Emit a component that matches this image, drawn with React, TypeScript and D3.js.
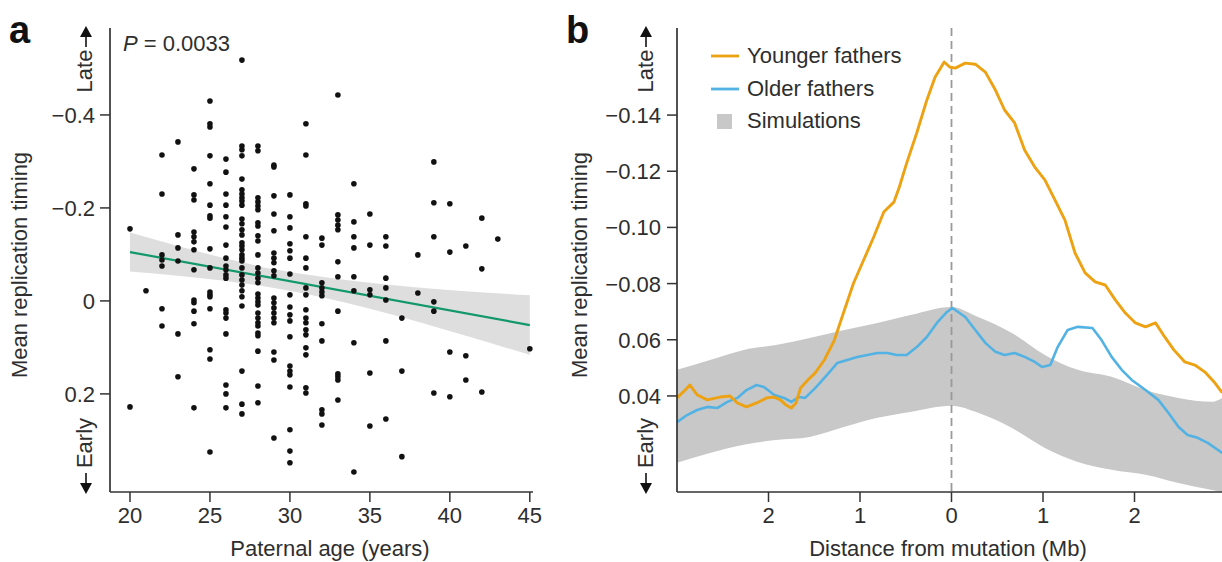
import React from 'react';
import * as d3 from 'd3';

// ---------- Panel a data ----------
const ageColumns = [20, 21, 22, 23, 24, 25, 26, 27, 28, 29, 30, 31, 32, 33, 34, 35, 36, 37, 38, 39, 40, 41, 42, 43, 45];
const timingByAge: number[][] = [
  [-0.155, 0.228],
  [-0.022],
  [-0.314, -0.23, -0.099, -0.088, -0.075, 0.017, 0.054],
  [-0.342, -0.142, -0.114, -0.086, 0.071, 0.163],
  [-0.284, -0.228, -0.217, -0.148, -0.138, -0.127, -0.11, -0.067, -0.002, 0.004, 0.022, 0.049, 0.23],
  [-0.43, -0.381, -0.374, -0.312, -0.252, -0.206, -0.183, -0.178, -0.112, -0.071, -0.019, -0.013, -0.009, 0.017, 0.105, 0.125, 0.325],
  [-0.305, -0.277, -0.23, -0.206, -0.181, -0.159, -0.12, -0.092, -0.075, -0.067, -0.056, -0.049, 0.019, 0.026, 0.037, 0.071, 0.181, 0.2, 0.23],
  [-0.518, -0.333, -0.325, -0.312, -0.262, -0.239, -0.23, -0.222, -0.215, -0.206, -0.176, -0.166, -0.153, -0.142, -0.125, -0.118, -0.11, -0.099, -0.092, -0.086, -0.071, -0.056, -0.045, -0.034, -0.022, -0.009, 0.011, 0.151, 0.222, 0.243],
  [-0.333, -0.323, -0.222, -0.213, -0.204, -0.196, -0.168, -0.161, -0.14, -0.129, -0.099, -0.071, -0.06, -0.049, -0.039, -0.015, -0.006, 0.002, 0.009, 0.026, 0.037, 0.047, 0.054, 0.069, 0.075, 0.108, 0.183, 0.219],
  [-0.292, -0.288, -0.226, -0.187, -0.151, -0.103, -0.092, -0.082, -0.065, -0.054, -0.006, 0.004, 0.015, 0.026, 0.037, 0.047, 0.11, 0.127, 0.295],
  [-0.228, -0.181, -0.157, -0.123, -0.108, -0.092, -0.058, -0.013, 0.013, 0.03, 0.043, 0.077, 0.14, 0.151, 0.159, 0.185, 0.277, 0.323, 0.348],
  [-0.381, -0.314, -0.209, -0.204, -0.138, -0.092, -0.071, -0.028, -0.013, 0.019, 0.037, 0.047, 0.062, 0.073, 0.101, 0.116, 0.187, 0.198],
  [-0.135, -0.12, -0.039, -0.028, -0.019, -0.011, 0.049, 0.086, 0.234, 0.243, 0.267],
  [-0.443, -0.185, -0.174, -0.163, -0.153, -0.084, -0.052, 0.022, 0.157, 0.163, 0.17, 0.213],
  [-0.252, -0.17, -0.138, -0.114, -0.052, -0.022, 0.09, 0.368],
  [-0.187, -0.12, -0.024, -0.013, 0.155, 0.269],
  [-0.138, -0.118, -0.049, -0.028, -0.002, 0.086, 0.254],
  [0.037, 0.151, 0.335],
  [-0.099, -0.017],
  [-0.299, -0.211, -0.138, 0.002, 0.022, 0.198],
  [-0.209, -0.105, 0.11, 0.206],
  [-0.118, 0.118, 0.17],
  [-0.178, -0.069, 0.196],
  [-0.133],
  [0.103],
];
const fitAges = [20, 45];
const fitValues = [-0.105, 0.052];
const bandAges = [20, 23, 26, 29, 32, 35, 38, 41, 45];
const bandLow = [-0.147, -0.118, -0.091, -0.068, -0.052, -0.039, -0.029, -0.021, -0.012];
const bandHigh = [-0.063, -0.054, -0.043, -0.028, -0.008, 0.017, 0.045, 0.075, 0.116];
const ageTicks = [20, 25, 30, 35, 40, 45];
const timingTicksA = [-0.4, -0.2, 0, 0.2];
const timingTickLabelsA = ['\u22120.4', '\u22120.2', '0', '0.2'];

// ---------- Panel b data ----------
const youngerMb = [-3.0, -2.91, -2.86, -2.78, -2.67, -2.53, -2.42, -2.34, -2.24, -2.13, -2.02, -1.94, -1.87, -1.81, -1.75, -1.7, -1.65, -1.57, -1.49, -1.39, -1.28, -1.17, -1.07, -0.96, -0.85, -0.74, -0.63, -0.57, -0.49, -0.38, -0.27, -0.18, -0.08, -0.02, 0.04, 0.15, 0.26, 0.37, 0.48, 0.58, 0.69, 0.8, 0.91, 1.02, 1.13, 1.24, 1.35, 1.46, 1.57, 1.68, 1.79, 1.9, 2.01, 2.12, 2.23, 2.33, 2.43, 2.55, 2.66, 2.77, 2.88, 2.96];
const youngerVal = [0.0393, 0.0421, 0.0439, 0.0404, 0.0386, 0.0396, 0.04, 0.0375, 0.0361, 0.0375, 0.0393, 0.0396, 0.0386, 0.0368, 0.0357, 0.0375, 0.0428, 0.0457, 0.0482, 0.0528, 0.0599, 0.0706, 0.0802, 0.0884, 0.0966, 0.1055, 0.109, 0.1144, 0.1229, 0.1336, 0.1453, 0.1535, 0.1589, 0.1571, 0.1567, 0.1585, 0.1581, 0.1553, 0.1489, 0.1418, 0.1372, 0.1275, 0.1215, 0.1169, 0.1098, 0.1026, 0.0909, 0.0838, 0.0806, 0.0795, 0.0742, 0.0695, 0.066, 0.0646, 0.066, 0.061, 0.0564, 0.0521, 0.051, 0.0485, 0.0446, 0.0411];
const olderMb = [-3.0, -2.89, -2.78, -2.67, -2.56, -2.45, -2.34, -2.24, -2.13, -2.05, -1.94, -1.83, -1.75, -1.67, -1.6, -1.49, -1.36, -1.25, -1.14, -1.03, -0.92, -0.81, -0.7, -0.6, -0.49, -0.38, -0.27, -0.16, -0.05, 0.01, 0.15, 0.26, 0.37, 0.48, 0.58, 0.69, 0.8, 0.91, 0.99, 1.08, 1.16, 1.27, 1.38, 1.54, 1.64, 1.75, 1.86, 1.97, 2.12, 2.26, 2.37, 2.48, 2.58, 2.69, 2.8, 2.96];
const olderVal = [0.0307, 0.0332, 0.035, 0.0361, 0.0357, 0.0379, 0.0393, 0.0421, 0.0439, 0.0432, 0.0404, 0.0393, 0.0379, 0.0396, 0.0393, 0.0428, 0.0475, 0.0517, 0.0528, 0.0539, 0.0546, 0.0553, 0.0553, 0.0546, 0.0546, 0.0574, 0.061, 0.066, 0.0699, 0.0713, 0.0681, 0.0635, 0.0589, 0.0557, 0.0546, 0.0553, 0.0539, 0.0521, 0.0503, 0.051, 0.0574, 0.0635, 0.0646, 0.0642, 0.0599, 0.0539, 0.0493, 0.0457, 0.0421, 0.0386, 0.034, 0.029, 0.0261, 0.0251, 0.0233, 0.0197];
const simMb = [-3.0, -2.64, -2.27, -1.92, -1.55, -1.17, -0.81, -0.45, 0.0, 0.29, 0.66, 1.02, 1.38, 1.75, 2.12, 2.48, 2.85, 2.96];
const simHigh = [0.0493, 0.0528, 0.0564, 0.0581, 0.0606, 0.0635, 0.066, 0.0688, 0.0717, 0.0681, 0.0624, 0.0546, 0.0493, 0.0468, 0.0421, 0.0393, 0.0379, 0.0393];
const simLow = [0.0162, 0.0197, 0.0226, 0.0243, 0.0254, 0.029, 0.0322, 0.0343, 0.0365, 0.034, 0.0286, 0.0215, 0.0165, 0.0137, 0.0119, 0.009, 0.0065, 0.0058];
const mbTicks = [-2, -1, 0, 1, 2];
const mbTickLabels = ['2', '1', '0', '1', '2'];
const timingTicksB = [0.04, 0.06, 0.08, 0.1, 0.12, 0.14];
const timingTickLabelsB = ['0.04', '0.06', '\u22120.08', '\u22120.10', '\u22120.12', '\u22120.14'];
const legendLabels = ['Younger fathers', 'Older fathers', 'Simulations'];

const FONT = '"Liberation Sans", Arial, Helvetica, sans-serif';
const TXT = '#2e2e2e';
const AX = '#333';
const ORANGE = '#EDA214';
const BLUE = '#52B2E3';
const GREEN = '#13986B';

function UpArrow({ x, y }: { x: number; y: number }) {
  return (
    <g>
      <line x1={x} y1={y + 9} x2={x} y2={y + 21} stroke="#111" strokeWidth={1.6} />
      <path d={`M${x},${y} L${x - 6},${y + 11} L${x + 6},${y + 11} Z`} fill="#111" />
    </g>
  );
}
function DownArrow({ x, y }: { x: number; y: number }) {
  return (
    <g>
      <line x1={x} y1={y - 21} x2={x} y2={y - 9} stroke="#111" strokeWidth={1.6} />
      <path d={`M${x},${y} L${x - 6},${y - 11} L${x + 6},${y - 11} Z`} fill="#111" />
    </g>
  );
}

export default function App() {
  const top = 28, bottom = 492;
  // panel a scales
  const xA = d3.scaleLinear().domain([18.75, 45.2]).range([110, 533]);
  const yA = d3.scaleLinear().domain([-0.587, 0.411]).range([top, bottom]);
  // panel b scales
  const xB = d3.scaleLinear().domain([-3, 3]).range([677, 1226]);
  const yB = d3.scaleLinear().domain([0.0058, 0.171]).range([bottom, top]);

  const bandA = d3
    .area<number>()
    .x((_, i) => xA(bandAges[i]))
    .y0((_, i) => yA(bandLow[i]))
    .y1((_, i) => yA(bandHigh[i]))
    .curve(d3.curveMonotoneX)(bandAges);

  const simArea = d3
    .area<number>()
    .x((_, i) => xB(simMb[i]))
    .y0((_, i) => yB(simLow[i]))
    .y1((_, i) => yB(simHigh[i]))
    .curve(d3.curveMonotoneX)(simMb);

  const youngLine = d3
    .line<number>()
    .x((_, i) => xB(youngerMb[i]))
    .y((_, i) => yB(youngerVal[i]))(youngerMb);
  const oldLine = d3
    .line<number>()
    .x((_, i) => xB(olderMb[i]))
    .y((_, i) => yB(olderVal[i]))(olderMb);

  const fs = 22;

  return (
    <svg width={1222} height={562} style={{ position: 'absolute', left: 0, top: 0 }} fontFamily={FONT}>
      <rect width={1222} height={562} fill="#fff" />
      {/* ================= Panel a ================= */}
      <text x={9} y={43} fontSize={38} fontWeight="bold" fill="#111">a</text>
      <path d={bandA || ''} fill="#dedede" />
      <line x1={xA(fitAges[0])} y1={yA(fitValues[0])} x2={xA(fitAges[1])} y2={yA(fitValues[1])} stroke={GREEN} strokeWidth={2.2} />
      {ageColumns.map((age, ci) =>
        timingByAge[ci].map((v, j) => <circle key={`${ci}-${j}`} cx={xA(age)} cy={yA(v)} r={2.8} fill="#111" />)
      )}
      {/* axes */}
      <line x1={110} y1={top} x2={110} y2={bottom} stroke={AX} strokeWidth={1.7} />
      <line x1={110} y1={bottom} x2={533} y2={bottom} stroke={AX} strokeWidth={1.7} />
      {timingTicksA.map((t, i) => (
        <g key={t}>
          <line x1={100} x2={110} y1={yA(t)} y2={yA(t)} stroke={AX} strokeWidth={1.5} />
          <text x={95} y={yA(t)} dy="0.36em" textAnchor="end" fontSize={fs} fill={TXT}>{timingTickLabelsA[i]}</text>
        </g>
      ))}
      {ageTicks.map((t) => (
        <g key={t}>
          <line x1={xA(t)} x2={xA(t)} y1={bottom} y2={bottom + 10} stroke={AX} strokeWidth={1.5} />
          <text x={xA(t)} y={523} textAnchor="middle" fontSize={fs} fill={TXT}>{t}</text>
        </g>
      ))}
      <text x={330} y={556} textAnchor="middle" fontSize={fs} fill={TXT}>Paternal age (years)</text>
      <text transform="translate(27,265) rotate(-90)" textAnchor="middle" fontSize={fs} fill={TXT}>Mean replication timing</text>
      <text transform="translate(92,71) rotate(-90)" textAnchor="middle" fontSize={fs} fill={TXT}>Late</text>
      <text transform="translate(92,443) rotate(-90)" textAnchor="middle" fontSize={fs} fill={TXT}>Early</text>
      <UpArrow x={86} y={26} />
      <DownArrow x={86} y={494} />
      <text x={123} y={51} fontSize={fs} fill={TXT}>
        <tspan fontStyle="italic">P</tspan> = 0.0033
      </text>

      {/* ================= Panel b ================= */}
      <text x={566} y={43} fontSize={38} fontWeight="bold" fill="#111">b</text>
      <path d={simArea || ''} fill="#c8c8c8" />
      <line x1={xB(0)} x2={xB(0)} y1={top} y2={bottom} stroke="#9a9a9a" strokeWidth={1.8} strokeDasharray="8,5" />
      <path d={oldLine || ''} fill="none" stroke={BLUE} strokeWidth={2.6} strokeLinejoin="round" />
      <path d={youngLine || ''} fill="none" stroke={ORANGE} strokeWidth={2.9} strokeLinejoin="round" />
      <line x1={677} y1={top} x2={677} y2={bottom} stroke={AX} strokeWidth={1.7} />
      <line x1={677} y1={bottom} x2={1222} y2={bottom} stroke={AX} strokeWidth={1.7} />
      {timingTicksB.map((t, i) => (
        <g key={t}>
          <line x1={667} x2={677} y1={yB(t)} y2={yB(t)} stroke={AX} strokeWidth={1.5} />
          <text x={661} y={yB(t)} dy="0.36em" textAnchor="end" fontSize={fs} fill={TXT}>{timingTickLabelsB[i]}</text>
        </g>
      ))}
      {mbTicks.map((t, i) => (
        <g key={t}>
          <line x1={xB(t)} x2={xB(t)} y1={bottom} y2={bottom + 10} stroke={AX} strokeWidth={1.5} />
          <text x={xB(t)} y={523} textAnchor="middle" fontSize={fs} fill={TXT}>{mbTickLabels[i]}</text>
        </g>
      ))}
      <text x={948} y={556} textAnchor="middle" fontSize={fs} fill={TXT}>Distance from mutation (Mb)</text>
      <text transform="translate(587,265) rotate(-90)" textAnchor="middle" fontSize={fs} fill={TXT}>Mean replication timing</text>
      <text transform="translate(653,71) rotate(-90)" textAnchor="middle" fontSize={fs} fill={TXT}>Late</text>
      <text transform="translate(653,443) rotate(-90)" textAnchor="middle" fontSize={fs} fill={TXT}>Early</text>
      <UpArrow x={646} y={26} />
      <DownArrow x={646} y={494} />
      {/* legend */}
      <line x1={711} x2={739} y1={56} y2={56} stroke={ORANGE} strokeWidth={2.8} />
      <text x={747} y={63} fontSize={fs} fill={TXT}>{legendLabels[0]}</text>
      <line x1={711} x2={739} y1={89} y2={89} stroke={BLUE} strokeWidth={2.8} />
      <text x={747} y={96} fontSize={fs} fill={TXT}>{legendLabels[1]}</text>
      <rect x={717} y={114} width={15} height={15} fill="#c8c8c8" />
      <text x={747} y={128} fontSize={fs} fill={TXT}>{legendLabels[2]}</text>
    </svg>
  );
}
